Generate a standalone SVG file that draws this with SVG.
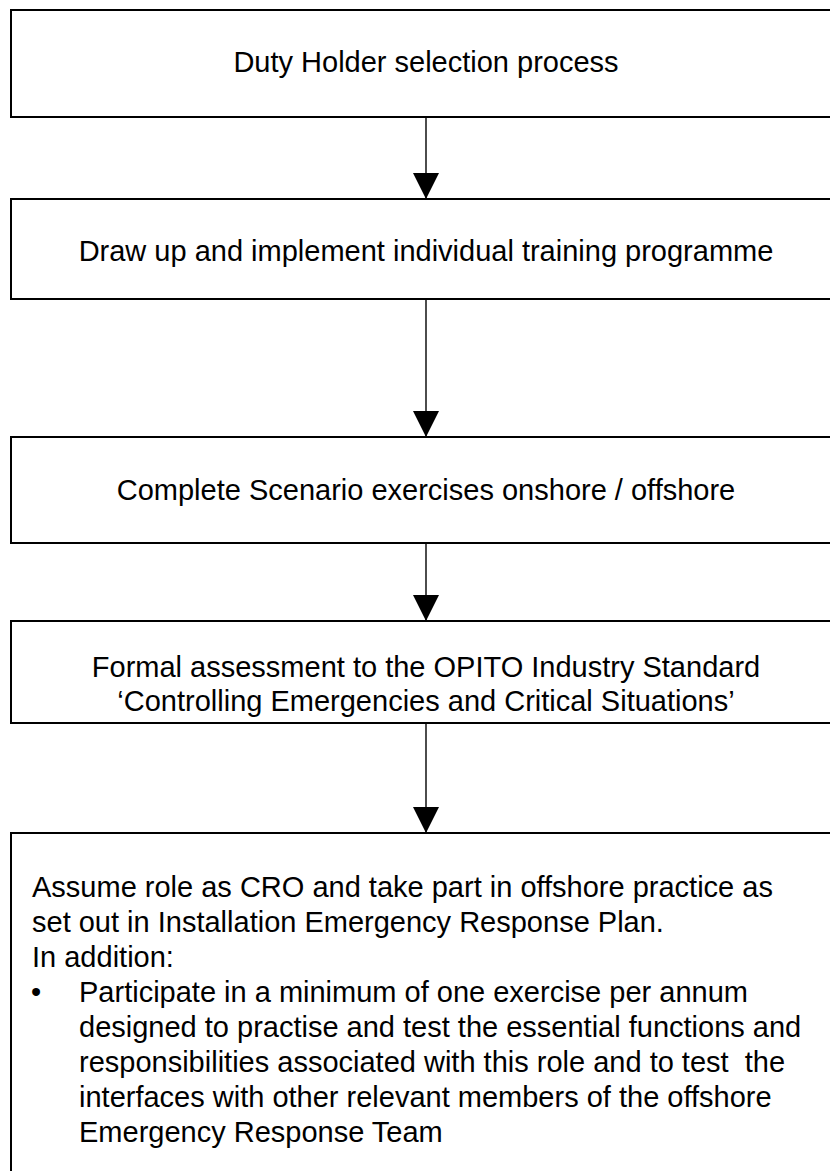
<svg xmlns="http://www.w3.org/2000/svg" width="830" height="1171" viewBox="0 0 830 1171">
<style>
.box{fill:#fff;stroke:#000;stroke-width:2}
.t{font-family:"Liberation Sans",Arial,sans-serif;font-size:29px;fill:#000}
.c{text-anchor:middle}
.conn{stroke:#000;stroke-width:1.4;fill:none}
</style>
<defs>
<marker id="ah" markerUnits="userSpaceOnUse" markerWidth="26" markerHeight="26" viewBox="0 0 26 26" refX="26" refY="13" orient="auto">
<path d="M0,0 L26,13 L0,26 Z" fill="#000"/>
</marker>
</defs>
<rect width="830" height="1171" fill="#fff"/>
<g id="connectors">
<line class="conn" x1="426" y1="117" x2="426" y2="199" marker-end="url(#ah)"/>
<line class="conn" x1="426" y1="299" x2="426" y2="437" marker-end="url(#ah)"/>
<line class="conn" x1="426" y1="543" x2="426" y2="621" marker-end="url(#ah)"/>
<line class="conn" x1="426" y1="723" x2="426" y2="833" marker-end="url(#ah)"/>
</g>
<g id="node1">
<rect class="box" x="11" y="10" width="832" height="107"/>
<text class="t c" x="426" y="72">Duty Holder selection process</text>
</g>
<g id="node2">
<rect class="box" x="11" y="199" width="832" height="100"/>
<text class="t c" x="426" y="261">Draw up and implement individual training programme</text>
</g>
<g id="node3">
<rect class="box" x="11" y="437" width="832" height="106"/>
<text class="t c" x="426" y="500">Complete Scenario exercises onshore / offshore</text>
</g>
<g id="node4">
<rect class="box" x="11" y="621" width="832" height="102"/>
<text class="t c" x="426" y="677">Formal assessment to the OPITO Industry Standard</text>
<text class="t c" x="426" y="711">‘Controlling Emergencies and Critical Situations’</text>
</g>
<g id="node5">
<rect class="box" x="11" y="833" width="832" height="360"/>
<text class="t" x="32" y="897">Assume role as CRO and take part in offshore practice as</text>
<text class="t" x="32" y="932">set out in Installation Emergency Response Plan.</text>
<text class="t" x="32" y="967">In addition:</text>
<text class="t" x="31" y="1002">•</text>
<text class="t" x="79" y="1002">Participate in a minimum of one exercise per annum</text>
<text class="t" x="79" y="1037">designed to practise and test the essential functions and</text>
<text class="t" x="79" y="1072" xml:space="preserve" style="white-space:pre">responsibilities associated with this role and to test  the</text>
<text class="t" x="79" y="1107">interfaces with other relevant members of the offshore</text>
<text class="t" x="79" y="1142">Emergency Response Team</text>
</g>
</svg>
